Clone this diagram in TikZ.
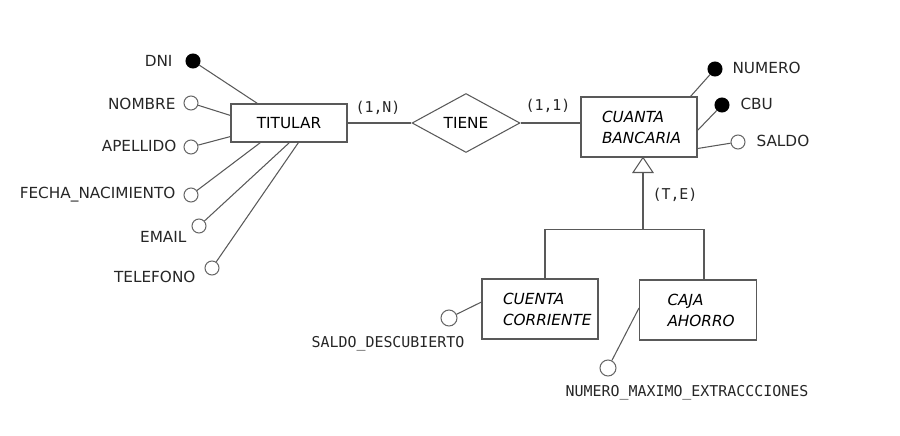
\documentclass[tikz,border=0pt]{standalone}
\usepackage{fontspec}
\setmainfont{DejaVu Sans}
\setmonofont{DejaVu Sans Mono}
\usetikzlibrary{shapes.geometric,calc}

\begin{document}
\begin{tikzpicture}[x=0.02cm,y=-0.02cm,line width=0.6pt,
 ln/.style={draw=black!65},
 ent/.style={draw=black!65,minimum width=2.32cm,minimum height=0.76cm,inner sep=0pt,font=\fontsize{8.7}{12}\selectfont},
 sub/.style={draw=black!65,minimum height=1.2cm,align=left,inner ysep=0pt,font=\fontsize{8.7}{12}\selectfont\itshape},
 rel/.style={draw=black!65,diamond,aspect=1.83,minimum width=2.16cm,minimum height=1.18cm,inner sep=0pt,font=\fontsize{8.7}{12}\selectfont},
 key/.style={circle,draw=black,fill=black,minimum size=0.28cm,inner sep=0pt},
 att/.style={circle,draw=black!60,fill=white,minimum size=0.28cm,inner sep=0pt},
 lbl/.style={inner sep=0pt,text=black!85,font=\fontsize{8.7}{10}\selectfont},
 card/.style={inner sep=0pt,text=black!85,font=\ttfamily\fontsize{8.5}{10}\selectfont}]
\useasboundingbox (0,0) rectangle (900,436);
% entities and relation
\node[ent] (tit) at (289,123) {TITULAR};
\node[rel] (tie) at (466,123) {TIENE};
\node[sub,text width=1.48cm,inner xsep=0.42cm] (cb) at (639,127) {CUANTA\\BANCARIA};
\node[sub,text width=1.48cm,inner xsep=0.42cm] (cc) at (540,309) {CUENTA\\CORRIENTE};
\node[sub,text width=1.22cm,inner xsep=0.56cm] (ca) at (698,310) {CAJA\\AHORRO};
\draw[ln] (tit.east) -- (tie.west);
\draw[ln] (tie.east) -- (tie.east -| cb.west);
\node[card] (c1n) at (378,108) {(1,N)};
\node[card] (c11) at (548,106) {(1,1)};
% attributes of TITULAR
\node[key] (dni) at (193,61) {};
\node[att] (nom) at (191,103) {};
\node[att] (ape) at (191,147) {};
\node[att] (fec) at (191,195) {};
\node[att] (ema) at (199,226) {};
\node[att] (tel) at (212,268) {};
\node[lbl,anchor=base east] (dnil) at (173,66) {DNI};
\node[lbl,anchor=base east] (noml) at (176,109) {NOMBRE};
\node[lbl,anchor=base east] (apel) at (177,151) {APELLIDO};
\node[lbl,anchor=base east] (fecl) at (176,198) {FECHA\_NACIMIENTO};
\node[lbl,anchor=base east] (emal) at (187,242) {EMAIL};
\node[lbl,anchor=base east] (tell) at (196,282) {TELEFONO};
\draw[ln] (dni) -- ($(tit.north west)+(27,0)$);
\draw[ln] (nom) -- ($(tit.north west)+(0,12)$);
\draw[ln] (ape) -- ($(tit.south west)+(0,-6)$);
\draw[ln] (fec) -- ($(tit.south west)+(30,0)$);
\draw[ln] (ema) -- ($(tit.south west)+(59,0)$);
\draw[ln] (tel) -- ($(tit.south west)+(68,0)$);
% attributes of CUANTA BANCARIA
\node[key] (num) at (715,69) {};
\node[key] (cbu) at (722,105) {};
\node[att] (sal) at (738,142) {};
\node[lbl,anchor=base west] (numl) at (732,73) {NUMERO};
\node[lbl,anchor=base west] (cbul) at (740,109) {CBU};
\node[lbl,anchor=base west] (sall) at (756,146) {SALDO};
\draw[ln] (num) -- ($(cb.north east)+(-7,0)$);
\draw[ln] (cbu) -- ($(cb.north east)+(0,34)$);
\draw[ln] (sal) -- ($(cb.south east)+(0,-9)$);
% generalization
\coordinate (apx) at ($(cb.south)+(4,0)$);
\draw[ln] (apx) -- ++(-10,15) -- ++(20,0) -- cycle;
\coordinate (fork) at ($(apx)+(0,72)$);
\coordinate (cct) at ($(cc.north)+(5,0)$);
\coordinate (cat) at ($(ca.north)+(6,0)$);
\draw[ln] ($(apx)+(0,15)$) -- (fork);
\draw[ln] (cct) -- (cct |- fork) -- (cat |- fork) -- (cat);
\node[card] (te) at (675,195) {(T,E)};
% attributes of subtypes
\node[att,minimum size=0.32cm] (sd) at (449,318) {};
\node[att,minimum size=0.32cm] (nmx) at (608,368) {};
\draw[ln] (sd) -- ($(cc.west)+(0,-7)$);
\draw[ln] (nmx) -- ($(ca.west)+(0,-2)$);
\node[card] (sdl) at (388,344) {SALDO\_DESCUBIERTO};
\node[card] (nmxl) at (687,393) {NUMERO\_MAXIMO\_EXTRACCCIONES};
\end{tikzpicture}
\end{document}
